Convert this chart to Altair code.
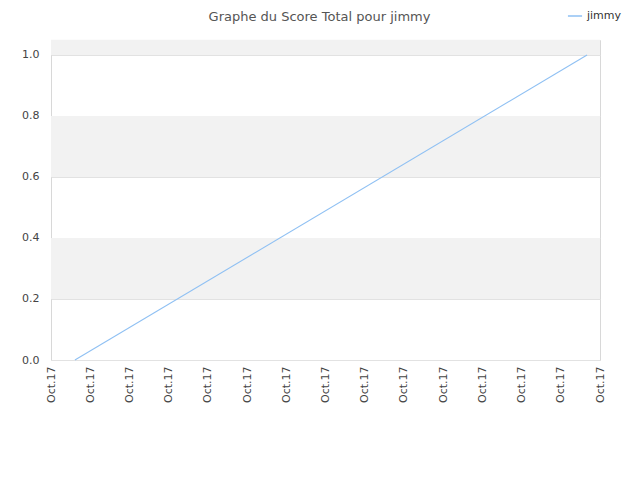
import altair as alt
import pandas as pd

# data
title_text = "Graphe du Score Total pour jimmy"
x_pos = [0.61, 13.67]
scores = [0.0, 1.0]
series = ["jimmy", "jimmy"]
tick_positions = list(range(15))
tick_label = "Oct.17"
band_lo = [0.2, 0.6, 1.0]
band_hi = [0.4, 0.8, 1.05]

line_df = pd.DataFrame({"x": x_pos, "score": scores, "name": series})
band_df = pd.DataFrame({"lo": band_lo, "hi": band_hi})
title_df = pd.DataFrame({"t": [title_text]})

W, H = 549, 320
ydom = [0, 1.049]
xdom = [0, 14]

bands = alt.Chart(band_df).mark_rect(color="#f2f2f2").encode(
    y=alt.Y("lo:Q", scale=alt.Scale(domain=ydom, nice=False, zero=False)),
    y2="hi:Q",
    x=alt.value(0),
    x2=alt.value(W),
)

line = alt.Chart(line_df).mark_line(strokeWidth=1.1).encode(
    x=alt.X("x:Q", scale=alt.Scale(domain=xdom, nice=False),
            axis=alt.Axis(values=tick_positions, labelExpr=f"'{tick_label}'",
                          labelAngle=-90, labelAlign="right", labelBaseline="middle",
                          title=None, grid=False, ticks=False, domain=False,
                          labelColor="#444", labelFontSize=11, labelPadding=6,
                          labelFont="DejaVu Sans", labelOverlap=False)),
    y=alt.Y("score:Q", scale=alt.Scale(domain=ydom, nice=False, zero=False),
            axis=alt.Axis(values=[0, 0.2, 0.4, 0.6, 0.8, 1.0], format=".1f",
                          title=None, grid=True, gridColor="#e2e2e2", ticks=False,
                          domain=False, labelColor="#444", labelFontSize=11,
                          labelPadding=12, labelFont="DejaVu Sans")),
    color=alt.Color("name:N", scale=alt.Scale(range=["#8fc0f3"]),
                    legend=alt.Legend(title=None, orient="none", legendX=516, legendY=-32,
                                      symbolType="stroke", symbolSize=200,
                                      symbolStrokeWidth=1.5,
                                      labelFontSize=11, labelColor="#333",
                                      labelFont="DejaVu Sans")),
)

title = alt.Chart(title_df).mark_text(
    fontSize=13, color="#555", font="DejaVu Sans", align="center", baseline="alphabetic"
).encode(text="t:N", x=alt.value(W / 2 - 6), y=alt.value(-19))

chart = alt.layer(bands, line, title).properties(
    width=W, height=H,
    autosize=alt.AutoSizeParams(type="none"),
    padding={"left": 43, "top": 32, "right": 32, "bottom": 80},
).configure_view(stroke="#d8d8d8", strokeWidth=1)

chart.save("out.html", embed_options={"renderer": "svg", "actions": False})
